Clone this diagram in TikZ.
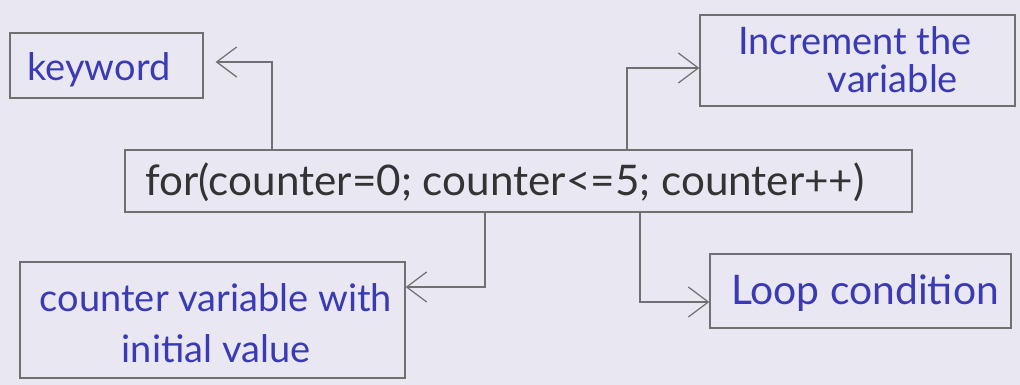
\documentclass[tikz,border=0pt]{standalone}
\usepackage{fontspec}
\setmainfont{Lato}
\usetikzlibrary{arrows.meta,fit}
\definecolor{paper}{HTML}{E9E7F1}
\definecolor{pencil}{HTML}{707070}
\definecolor{ink}{HTML}{3A3AB4}
\definecolor{dark}{HTML}{333333}
\begin{document}
\begin{tikzpicture}[x=0.025cm,y=-0.025cm,
  box/.style={draw=pencil,line width=0.9pt,inner sep=0pt},
  txt/.style={inner sep=0pt,text=ink,align=center},
  arr/.style={draw=pencil,line width=0.9pt,
    -{Straight Barb[length=0.5cm,width=0.75cm]}}]
\fill[paper] (0,0) rectangle (1020,385);
\useasboundingbox (0,0) rectangle (1020,385);
% boxes
\node[box,fit={(10,33)(203,98)}] (keyword) {};
\node[box,fit={(125,150)(912,212)}] (main) {};
\node[box,fit={(700,15)(1015,106)}] (incr) {};
\node[box,fit={(20,262)(405,378)}] (cvar) {};
\node[box,fit={(710,254)(1011,328)}] (loop) {};
% texts
\node[txt,font=\fontsize{27}{30}\selectfont] (keywordtxt) at (99,70) {keyword};
\node[txt,text=dark,font=\fontsize{30}{32}\selectfont] (maintxt) at (505,182)
  {for(counter=0; counter<=5; counter++)};
\node[txt,font=\fontsize{27}{27}\selectfont] (incrtxt) at (855,60)
  {Increment the\\ \hspace*{2em}variable};
\node[txt,font=\fontsize{27}{36}\selectfont] (cvartxt) at (216,323)
  {counter variable with\\ initial value};
\node[txt,font=\fontsize{29}{32}\selectfont] (looptxt) at (865,293) {Loop condition};
% helper coordinates
\coordinate (kx) at (272,0);
\coordinate (ky) at (0,62);
\coordinate (ix) at (627,0);
\coordinate (iy) at (0,68);
\coordinate (cx) at (485,0);
\coordinate (cy) at (0,287);
\coordinate (lx) at (640,0);
\coordinate (ly) at (0,302);
% connectors
\draw[arr,shorten >=0.3cm] (main.north -| kx) |- (keyword.east |- ky);
\draw[arr] (main.north -| ix) |- (incr.west |- iy);
\draw[arr] (main.south -| cx) |- (cvar.east |- cy);
\draw[arr] (main.south -| lx) |- (loop.west |- ly);
\end{tikzpicture}
\end{document}
